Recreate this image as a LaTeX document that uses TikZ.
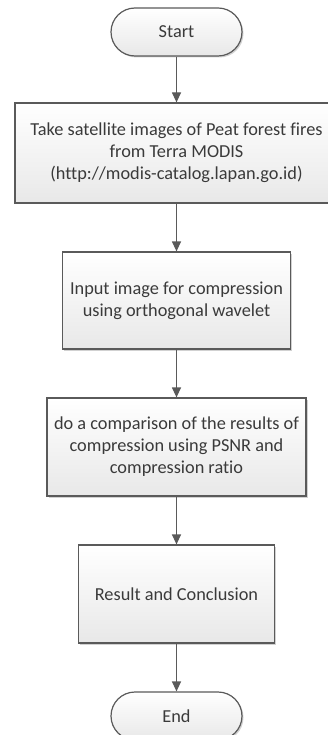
\documentclass[tikz,border=0pt]{standalone}
\usepackage{fontspec}
\setmainfont{Carlito}[Ligatures=NoCommon]
\usetikzlibrary{shadows,arrows.meta}
\definecolor{edge}{HTML}{5A5A5A}
\definecolor{txt}{HTML}{3A3A3A}
\definecolor{fillbot}{HTML}{E8E8E8}
\tikzset{
  base/.style={draw=edge, line width=1.2pt, top color=white, bottom color=fillbot,
    text=txt, font=\fontsize{18.3}{22}\selectfont, align=center, inner sep=0pt,
    drop shadow={shadow xshift=1.5pt, shadow yshift=-1.5pt, fill=black, opacity=0.18}},
  procbox/.style={base, rectangle},
  term/.style={base, rectangle, rounded corners=24pt, minimum width=131pt, minimum height=48pt},
  flow/.style={draw=edge, line width=1.2pt, -{Triangle[length=10pt,width=9pt]}},
}
\begin{document}
\begin{tikzpicture}[x=1pt,y=-1pt]
\useasboundingbox (0,0) rectangle (327,735);
\fill[white] (0,0) rectangle (327,735);
\node[term] (start) at (176.5,32) {Start};
\node[procbox, minimum width=323pt, minimum height=100pt] (take) at (176.5,153)
  {Take satellite images of Peat forest fires\\from Terra MODIS\\(http://modis-catalog.lapan.go.id)};
\node[procbox, minimum width=228pt, minimum height=97pt] (input) at (176.5,300.5)
  {Input image for compression\\using orthogonal wavelet};
\node[procbox, minimum width=259pt, minimum height=98pt] (comp) at (176.5,447)
  {do a comparison of the results of\\compression using PSNR and\\compression ratio};
\node[procbox, minimum width=196pt, minimum height=98pt] (res) at (176.5,594)
  {Result and Conclusion};
\node[term] (end) at (176.5,716) {End};
\draw[flow] (start) -- (take);
\draw[flow] (take) -- (input);
\draw[flow] (input) -- (comp);
\draw[flow] (comp) -- (res);
\draw[flow] (res) -- (end);
\end{tikzpicture}
\end{document}
